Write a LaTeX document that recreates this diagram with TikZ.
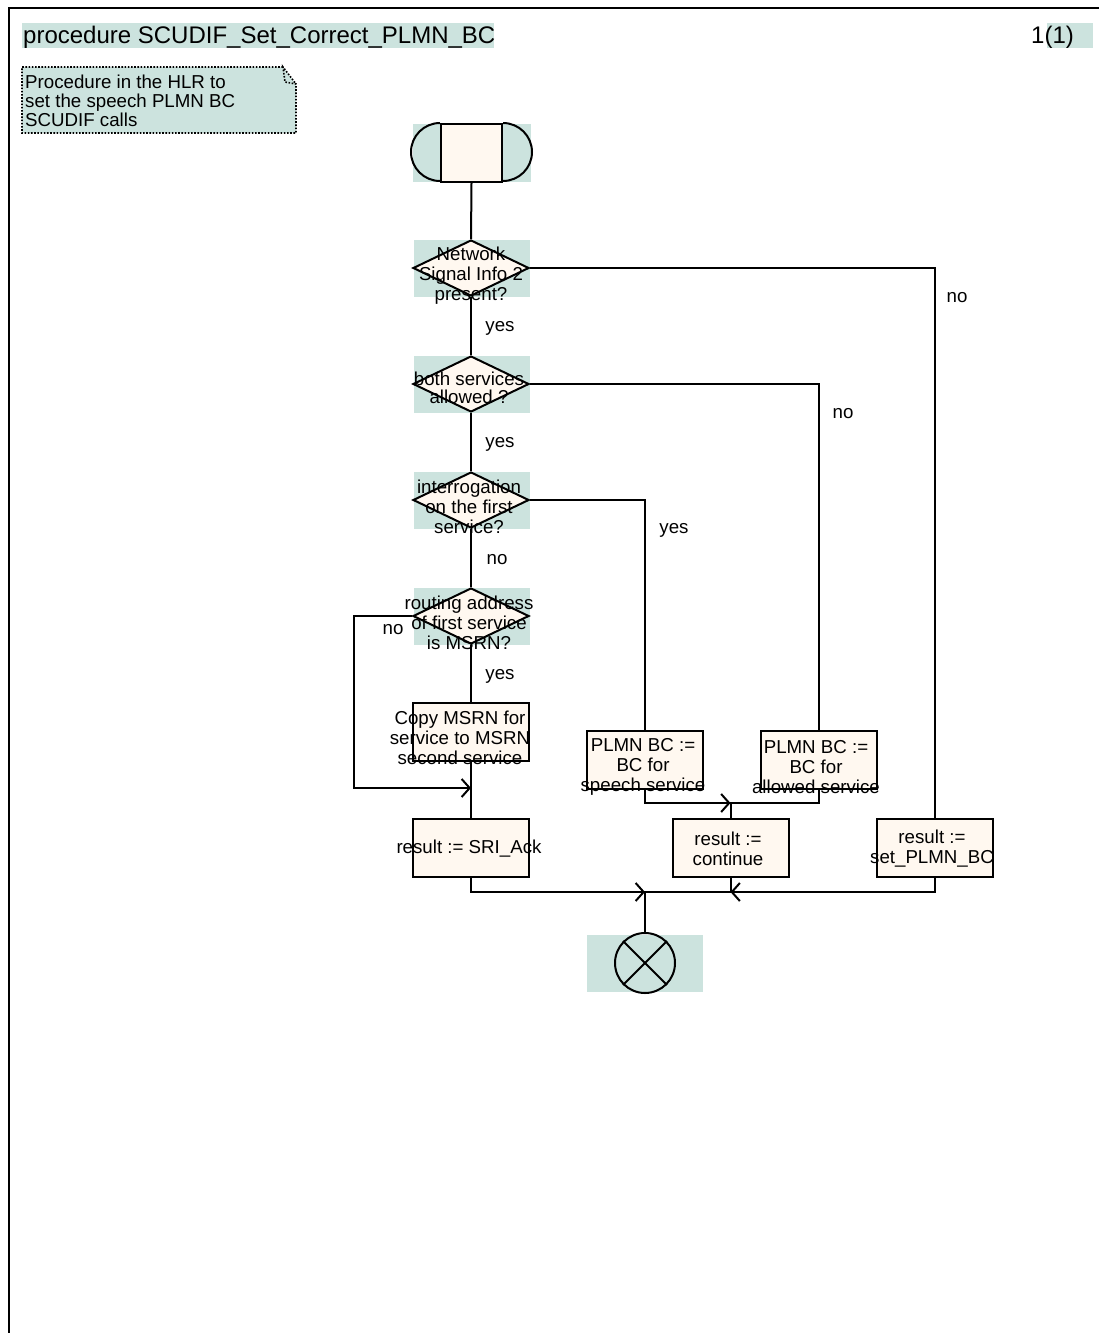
\documentclass[tikz,border=0pt]{standalone}
\usepackage{fontspec}
\setmainfont{Liberation Sans}
\usetikzlibrary{shapes.geometric,arrows.meta,positioning}
\definecolor{sdlteal}{RGB}{204,227,222}
\definecolor{sdlcream}{RGB}{255,248,240}

\begin{document}
\begin{tikzpicture}[
    x=1pt, y=-1pt,
    every node/.style={font=\fontsize{18.7}{20}\selectfont, inner sep=0pt},
    flow/.style={line width=2pt},
    merge/.style={flow, -{Straight Barb[length=8pt,width=18pt,line width=2pt]}},
    bghl/.style={fill=sdlteal, minimum width=116pt, minimum height=57pt},
    decision/.style={diamond, draw, line width=2pt, fill=sdlcream, aspect=2,
                     minimum width=116pt, minimum height=56pt},
    taskbox/.style={draw, line width=2pt, fill=sdlcream,
                    minimum width=116pt, minimum height=58pt},
    boxtext/.style={align=center},
    bigtext/.style={font=\fontsize{24}{26}\selectfont}
  ]
  \useasboundingbox (0,0) rectangle (1099,1333);
  % page frame
  \draw[line width=2.6pt] (9,1333) -- (9,8) -- (1099,8);

  % heading
  \fill[sdlteal] (22,23) rectangle (494,48);
  \node[bigtext, anchor=west] (title) at (23,37) {procedure SCUDIF\_Set\_Correct\_PLMN\_BC};
  \fill[sdlteal] (1047,23) rectangle (1093,48);
  \node[bigtext, anchor=west] (page) at (1031,37) {1(1)};

  % comment
  \fill[sdlteal] (22,67) -- (283,67) -- (296,84) -- (296,133) -- (22,133) -- cycle;
  \draw[line width=1.6pt, dash pattern=on 1.6pt off 1.6pt] (283,67) -- (22,67) -- (22,133)
    -- (296,133) -- (296,84) -- (285,82) -- (283,67) -- (296,84);
  \node[anchor=north west, align=left, font=\fontsize{18.7}{19}\selectfont] (note) at (25,75)
    {Procedure in the HLR to\\set the speech PLMN BC\\SCUDIF calls};

  % start
  \node[fill=sdlteal, minimum width=118pt, minimum height=58pt] (startbg) at (472,153) {};
  \node[draw, line width=2pt, fill=sdlcream, minimum width=61pt, minimum height=58pt] (start) at (471.5,153) {};
  \draw[flow] (start.north west) arc[start angle=90, end angle=270, radius=29pt];
  \draw[flow] (start.north east) arc[start angle=90, end angle=-90, radius=29pt];

  % decisions
  \node[bghl] (d1bg) at (472,268.5) {};
  \node[decision] (d1) at (471,268) {};
  \node[boxtext] (d1t) at (471,276) {Network\\Signal Info 2\\present?};

  \node[bghl] (d2bg) at (472,384.5) {};
  \node[decision] (d2) at (471,384) {};
  \node[boxtext, font=\fontsize{18.7}{18}\selectfont] (d2t) at (469,388) {both services\\allowed ?};

  \node[bghl] (d3bg) at (472,500.5) {};
  \node[decision] (d3) at (471,500) {};
  \node[boxtext] (d3t) at (469,507) {interrogation\\on the first\\service?};

  \node[bghl] (d4bg) at (472,616.5) {};
  \node[decision] (d4) at (471,616) {};
  \node[boxtext] (d4t) at (469,623) {routing address\\of first service\\is MSRN?};

  % tasks
  \node[taskbox] (copy) at (471,732) {};
  \node[boxtext] (copyt) at (460,738) {Copy MSRN for\\service to MSRN\\second service};
  \node[taskbox] (sri) at (471,848) {};
  \node[boxtext] (srit) at (469,849) {result := SRI\_Ack};
  \node[taskbox] (speech) at (645,760) {};
  \node[boxtext] (speecht) at (643,767) {PLMN BC :=\\BC for\\speech service};
  \node[taskbox] (allowed) at (818.5,760) {};
  \node[boxtext] (allowedt) at (816,767) {PLMN BC :=\\BC for\\allowed service};
  \node[taskbox] (cont) at (730.5,848) {};
  \node[boxtext] (contt) at (728,849) {result :=\\continue};
  \node[taskbox] (setbc) at (935,848) {};
  \node[boxtext] (setbct) at (932,849) {result :=\\set\_PLMN\_BC};

  % stop
  \node[bghl] (stopbg) at (645,963.5) {};
  \node[circle, draw, line width=2pt, minimum size=60pt] (stop) at (645,963) {};
  \draw[flow] (stop.north west) -- (stop.south east);
  \draw[flow] (stop.north east) -- (stop.south west);

  % answers
  \node (a1) at (500,328) {yes};
  \node (a2) at (957,298) {no};
  \node (a3) at (500,444) {yes};
  \node (a4) at (843,414) {no};
  \node (a5) at (497,560) {no};
  \node (a6) at (674,530) {yes};
  \node (a7) at (393,630) {no};
  \node (a8) at (500,676) {yes};

  % connectors
  \coordinate (j1) at (471,788);
  \coordinate (j2) at (730.5,803);
  \coordinate (j3) at (645,892);
  \coordinate (j4) at (730.5,892);
  \draw[flow] (start.south) -- (d1.north);
  \draw[flow] (d1.south) -- (d2.north);
  \draw[flow] (d2.south) -- (d3.north);
  \draw[flow] (d3.south) -- (d4.north);
  \draw[flow] (d4.south) -- (copy.north);
  \draw[flow] (copy.south) -- (sri.north);
  \draw[merge] (d4.west) -- ++(-58,0) |- (j1);
  \draw[flow] (d3.east) -| (speech.north);
  \draw[flow] (d2.east) -| (allowed.north);
  \draw[flow] (d1.east) -| (setbc.north);
  \draw[merge] (speech.south) |- (j2);
  \draw[flow] (allowed.south) |- (j2) -- (cont.north);
  \draw[merge] (sri.south) |- (j3);
  \draw[merge] (setbc.south) |- (j4);
  \draw[flow] (cont.south) -- (j4) -- (j3) -- (stop.north);
\end{tikzpicture}
\end{document}
